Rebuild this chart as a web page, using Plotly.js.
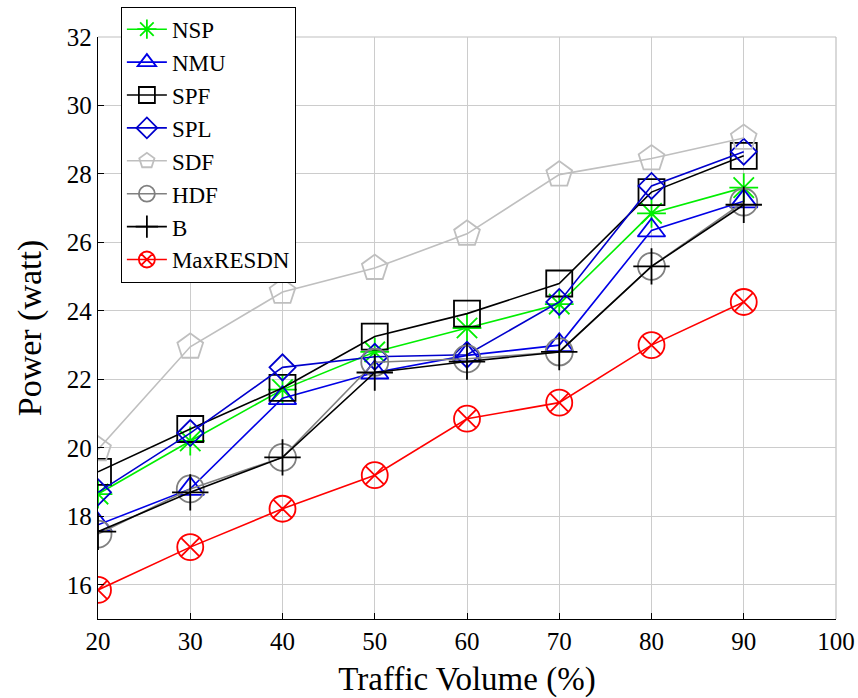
<!DOCTYPE html>
<html><head><meta charset="utf-8">
<script src="https://cdn.plot.ly/plotly-3.0.1.min.js"></script>
<style>html,body{margin:0;padding:0;background:#fff}#chart{width:858px;height:698px}</style>
</head><body><div id="chart"></div>
<script>
const traffic = [20, 30, 40, 50, 60, 70, 80, 90];
const nsp      = [18.65, 20.2, 21.7, 22.8, 23.5, 24.2, 26.85, 27.6];
const nmu      = [17.75, 18.8, 21.45, 22.2, 22.7, 23.0, 26.35, 27.2];
const spf      = [19.3, 20.55, 21.75, 23.25, 23.92, 24.8, 27.47, 28.53];
const spl      = [18.7, 20.43, 22.35, 22.66, 22.72, 24.26, 27.65, 28.65];
const sdf      = [19.95, 22.95, 24.55, 25.25, 26.25, 27.98, 28.45, 29.05];
const hdf      = [17.48, 18.8, 19.72, 22.5, 22.6, 22.8, 25.3, 27.18];
const bSeries  = [17.55, 18.7, 19.72, 22.2, 22.52, 22.8, 25.3, 27.1];
const maxresdn = [15.85, 17.1, 18.22, 19.2, 20.85, 21.32, 23.0, 24.26];
const seriesNames = ['NSP','NMU','SPF','SPL','SDF','HDF','B','MaxRESDN'];
const xTicks = [20, 30, 40, 50, 60, 70, 80, 90, 100];
const yTicks = [16, 18, 20, 22, 24, 26, 28, 30, 32];

const values = [nsp, nmu, spf, spl, sdf, hdf, bSeries, maxresdn];
const colors = ['#00ee00', '#0000e6', '#000000', '#0000cc', '#bfbfbf', '#808080', '#000000', '#ff0000'];
const symbols = ['asterisk-open', 'triangle-up-open', 'square-open', 'diamond-open', 'pentagon-open', 'circle-open', 'cross-thin-open', 'circle-x-open'];
const sizes = [24, 24, 26, 20, 27, 27, 26, 26];

const traces = values.map((v, i) => ({
  x: traffic, y: v, name: seriesNames[i], type: 'scatter', mode: 'lines+markers',
  line: {color: colors[i], width: 1.6},
  marker: {symbol: symbols[i], size: sizes[i], color: colors[i], line: {color: colors[i], width: 1.8}}
}));

const font = 'Liberation Serif';
const layout = {
  width: 858, height: 698,
  margin: {l: 98, r: 22, t: 37, b: 79, autoexpand: false},
  paper_bgcolor: '#fff', plot_bgcolor: '#fff',
  font: {family: font, color: '#000', size: 25},
  showlegend: true,
  legend: {x: 0.031, y: 1.052, xanchor: 'left', yanchor: 'top', bgcolor: '#fff',
    bordercolor: '#000', borderwidth: 1, font: {family: font, size: 23}, itemwidth: 40,
    entrywidth: 168, entrywidthmode: 'pixels', tracegroupgap: 0},
  xaxis: {range: [20, 100], tickvals: xTicks, ticktext: xTicks.map(String),
    showgrid: true, gridcolor: '#cccccc', gridwidth: 1,
    showline: true, linecolor: '#000', linewidth: 1.2,
    ticks: 'inside', ticklen: 6, tickcolor: '#000', zeroline: false,
    title: {text: 'Traffic Volume (%)', font: {family: font, size: 33}, standoff: 12},
    tickfont: {family: font, size: 25}},
  yaxis: {range: [15, 32], tickvals: yTicks, ticktext: yTicks.map(String),
    showgrid: true, gridcolor: '#cccccc', gridwidth: 1,
    showline: true, linecolor: '#000', linewidth: 1.2,
    ticks: 'inside', ticklen: 6, tickcolor: '#000', zeroline: false,
    title: {text: 'Power (watt)', font: {family: font, size: 34}, standoff: 14},
    tickfont: {family: font, size: 25}},
  shapes: [
    {type: 'line', xref: 'paper', yref: 'paper', x0: 0, x1: 1, y0: 1, y1: 1, line: {color: '#c0c0c0', width: 1.2}, layer: 'below'},
    {type: 'line', xref: 'paper', yref: 'paper', x0: 1, x1: 1, y0: 0, y1: 1, line: {color: '#c0c0c0', width: 1.2}, layer: 'below'}
  ]
};
Plotly.newPlot('chart', traces, layout, {displayModeBar: false, staticPlot: true});
</script></body></html>
